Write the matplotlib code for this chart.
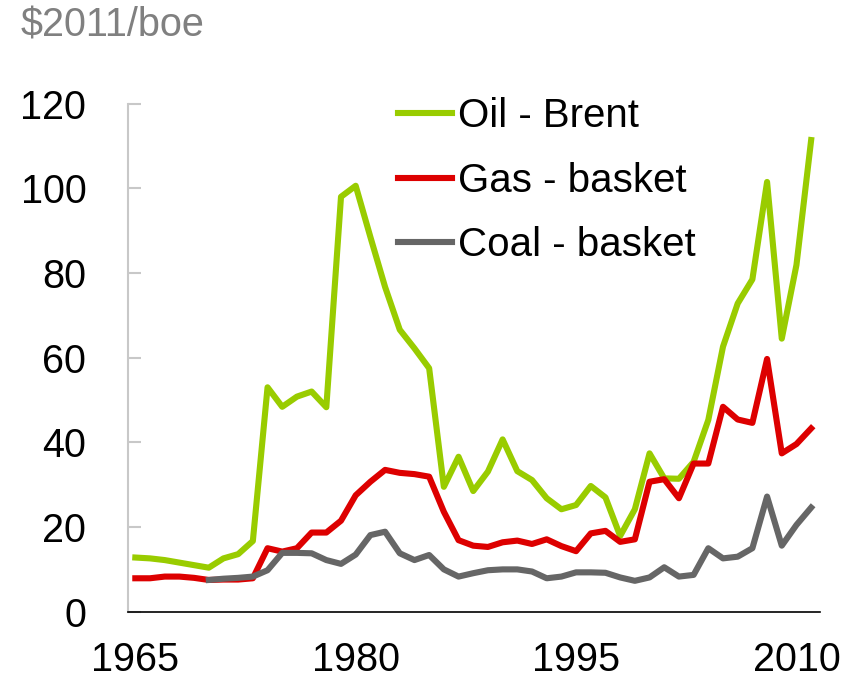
import matplotlib
matplotlib.use("Agg")

import matplotlib.pyplot as plt

# =====================
# Data ($2011 per barrel of oil equivalent)
# =====================
years = list(range(1965, 2012))

oil = [12.8, 12.6, 12.2, 11.6, 11.0, 10.4, 12.6, 13.6, 16.7, 53.0,
       48.4, 50.8, 52.0, 48.3, 98.0, 100.6, 88.5, 76.7, 66.6, 62.2,
       57.5, 29.5, 36.6, 28.5, 33.1, 40.7, 33.2, 31.1, 26.8, 24.2,
       25.2, 29.7, 27.0, 17.9, 24.2, 37.4, 31.5, 31.4, 35.4, 45.3,
       62.6, 72.8, 78.5, 101.5, 64.5, 81.9, 111.4]

gas = [7.9, 7.9, 8.3, 8.3, 8.0, 7.5, 7.6, 7.6, 7.9, 15.0,
       14.2, 15.0, 18.7, 18.7, 21.5, 27.5, 30.7, 33.5, 32.8, 32.5,
       31.9, 23.6, 16.9, 15.6, 15.3, 16.4, 16.8, 16.0, 17.1, 15.5,
       14.3, 18.5, 19.1, 16.5, 17.1, 30.7, 31.3, 26.8, 35.0, 35.0,
       48.4, 45.4, 44.6, 59.7, 37.4, 39.6, 43.3]

coal_years = list(range(1970, 2012))
coal = [7.5, 7.8, 8.0, 8.3, 9.8, 13.9, 13.9, 13.8, 12.2, 11.3,
        13.5, 18.1, 18.9, 13.8, 12.2, 13.4, 10.0, 8.3, 9.1, 9.8,
        10.0, 10.0, 9.5, 7.9, 8.3, 9.3, 9.3, 9.2, 8.1, 7.3,
        8.1, 10.5, 8.3, 8.7, 15.0, 12.6, 13.0, 15.0, 27.2, 15.6,
        20.5, 24.6]

labels = ["Oil - Brent", "Gas - basket", "Coal - basket"]
colors = ["#99cc00", "#dd0000", "#666666"]
xticks = [1965, 1980, 1995, 2010]
yticks = [0, 20, 40, 60, 80, 100, 120]

# =====================
# Figure
# =====================
font = "Liberation Sans"

fig = plt.figure(figsize=(8.52, 6.8), dpi=100)
ax = fig.add_axes([0.1502, 0.1004, 0.8122, 0.7472])

lw = 4.4
ax.plot(years, oil, color=colors[0], lw=lw, label=labels[0])
ax.plot(years, gas, color=colors[1], lw=lw, label=labels[1])
ax.plot(coal_years, coal, color=colors[2], lw=lw, label=labels[2])

ax.set_xlim(1964.5, 2011.6)
ax.set_ylim(0, 120)
ax.set_xticks(xticks)
ax.set_yticks(yticks)
ax.set_xticklabels([str(t) for t in xticks], family=font, fontsize=28.5)
ax.set_yticklabels([str(t) for t in yticks], family=font, fontsize=28.5)

ax.tick_params(axis="y", direction="in", length=9, width=1.5, color="#c8c8c8", pad=30)
ax.tick_params(axis="x", length=0, pad=21)

for s in ["top", "right"]:
    ax.spines[s].set_visible(False)
ax.spines["left"].set_color("#c8c8c8")
ax.spines["left"].set_linewidth(1.5)
ax.spines["bottom"].set_color("black")
ax.spines["bottom"].set_linewidth(1.2)

fig.text(0.024, 0.99, "$2011/boe", family=font, fontsize=28.5,
         color="#808080", ha="left", va="top")

leg = ax.legend(loc="upper left", bbox_to_anchor=(0.467, 0.857),
                bbox_transform=fig.transFigure, frameon=False,
                prop={"family": font, "size": 29},
                handlelength=1.34, handletextpad=0.15, labelspacing=0.66,
                borderpad=0, borderaxespad=0)
for h in leg.get_lines():
    h.set_linewidth(lw)

fig.savefig("out.png", dpi=100)
